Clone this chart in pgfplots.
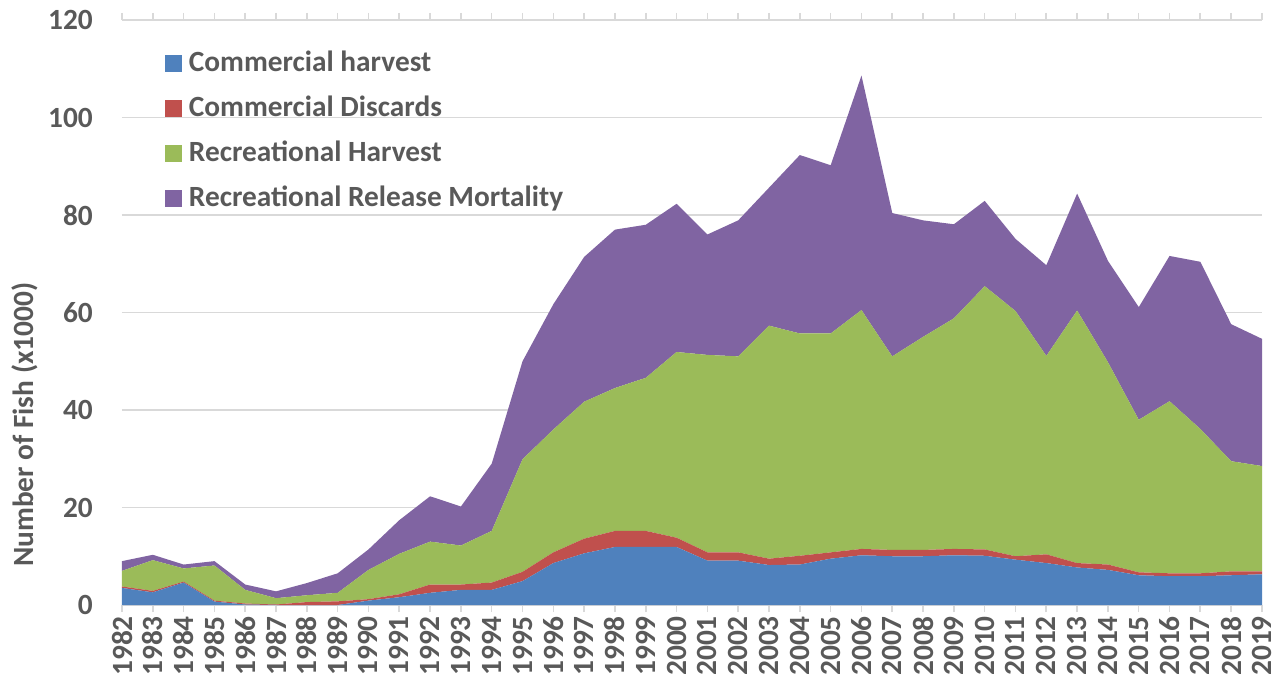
\documentclass[border=0pt]{standalone}
\usepackage{pgfplots}
\pgfplotsset{compat=1.18}
\usepackage{pgfplotstable}
\usepackage{fontspec}
\setmainfont{Carlito}

\definecolor{chblue}{HTML}{4F81BD}
\definecolor{cdred}{HTML}{C0504D}
\definecolor{rhgreen}{HTML}{9BBB59}
\definecolor{rrpurple}{HTML}{8064A2}
\definecolor{textgray}{HTML}{595959}
\definecolor{gridgray}{HTML}{D9D9D9}

% ch = commercial harvest, cd = commercial discards,
% rh = recreational harvest, rr = recreational release mortality
\pgfplotstableread{
year ch   cd   rh   rr
1982 3.5  0.3  3.2  2.0
1983 2.6  0.3  6.3  1.1
1984 4.6  0.2  2.7  0.8
1985 0.7  0.2  7.2  0.9
1986 0.1  0.2  2.8  1.1
1987 0.0  0.1  1.3  1.4
1988 0.0  0.6  1.4  2.5
1989 0.0  0.75 1.75 4.0
1990 0.9  0.3  6.0  4.2
1991 1.6  0.6  8.3  6.9
1992 2.5  1.7  8.8  9.3
1993 3.1  1.1  8.0  8.0
1994 3.1  1.5  10.6 13.8
1995 4.9  1.9  23.1 20.1
1996 8.6  2.2  25.2 25.7
1997 10.6 3.0  28.1 29.7
1998 11.9 3.3  29.3 32.5
1999 11.9 3.3  31.4 31.4
2000 11.9 1.9  38.1 30.4
2001 9.1  1.7  40.5 24.7
2002 9.1  1.7  40.2 27.9
2003 8.2  1.3  47.8 28.3
2004 8.3  1.8  45.6 36.6
2005 9.5  1.3  44.9 34.5
2006 10.2 1.3  49.0 48.1
2007 10.0 1.3  39.7 29.4
2008 10.0 1.3  43.7 23.9
2009 10.2 1.3  47.3 19.3
2010 10.1 1.3  54.0 17.5
2011 9.3  0.7  50.3 14.8
2012 8.6  1.8  40.7 18.6
2013 7.7  0.9  51.8 24.0
2014 7.2  1.1  41.5 20.8
2015 6.1  0.6  31.3 23.1
2016 5.9  0.6  35.3 29.8
2017 5.9  0.6  29.6 34.3
2018 6.1  0.8  22.6 28.1
2019 6.3  0.6  21.6 26.1
}\fishdata

\begin{document}
\begin{tikzpicture}
\begin{axis}[
    scale only axis,
    width=855pt, height=438.75pt,
    xmin=1982, xmax=2019,
    ymin=0, ymax=120,
    xtick={1982,...,2019},
    ytick={0,20,...,120},
    stack plots=y,
    ymajorgrids,
    grid style={gridgray, line width=1.4pt},
    axis line style={draw=none},
    tick align=outside,
    major tick length=5.25pt,
    xtick style={gridgray, line width=1.2pt},
    ytick style={draw=none},
    /pgf/number format/assume math mode=true,
    ticklabel style={font=\fontsize{22}{26}\selectfont\bfseries, text=textgray, inner sep=0pt},
    x tick label style={rotate=90, anchor=east, /pgf/number format/1000 sep={}},
    xticklabel shift=3pt,
    yticklabel shift=16.5pt,
    ylabel={Number of Fish (x1000)},
    ylabel style={at={(axis description cs:-0.085,0.308)}, anchor=center,
        font=\fontsize{22}{26}\selectfont\bfseries, text=textgray},
    legend style={at={(axis description cs:0.0342,0.9448)}, anchor=north west,
        draw=none, fill=none, font=\fontsize{22}{26}\selectfont\bfseries,
        text=textgray, row sep=19.2pt, column sep=5pt,
        nodes={inner sep=0pt, text height=0.75em, text depth=0.25em}},
    legend cell align=left,
    legend image code/.code={\fill[#1] (0pt,-3.2pt) rectangle (12.75pt,9.55pt);},
]
\addplot[fill=chblue, draw=none] table[x=year, y=ch] {\fishdata} \closedcycle;
\addlegendentry{Commercial harvest}
\addplot[fill=cdred, draw=none] table[x=year, y=cd] {\fishdata} \closedcycle;
\addlegendentry{Commercial Discards}
\addplot[fill=rhgreen, draw=none] table[x=year, y=rh] {\fishdata} \closedcycle;
\addlegendentry{Recreational Harvest}
\addplot[fill=rrpurple, draw=none] table[x=year, y=rr] {\fishdata} \closedcycle;
\addlegendentry{Recreational Release Mortality}
\end{axis}
\pgfresetboundingbox
\path[use as bounding box] (-91.5pt,-60.75pt) rectangle (871.5pt,453.75pt);
\end{tikzpicture}
\end{document}
